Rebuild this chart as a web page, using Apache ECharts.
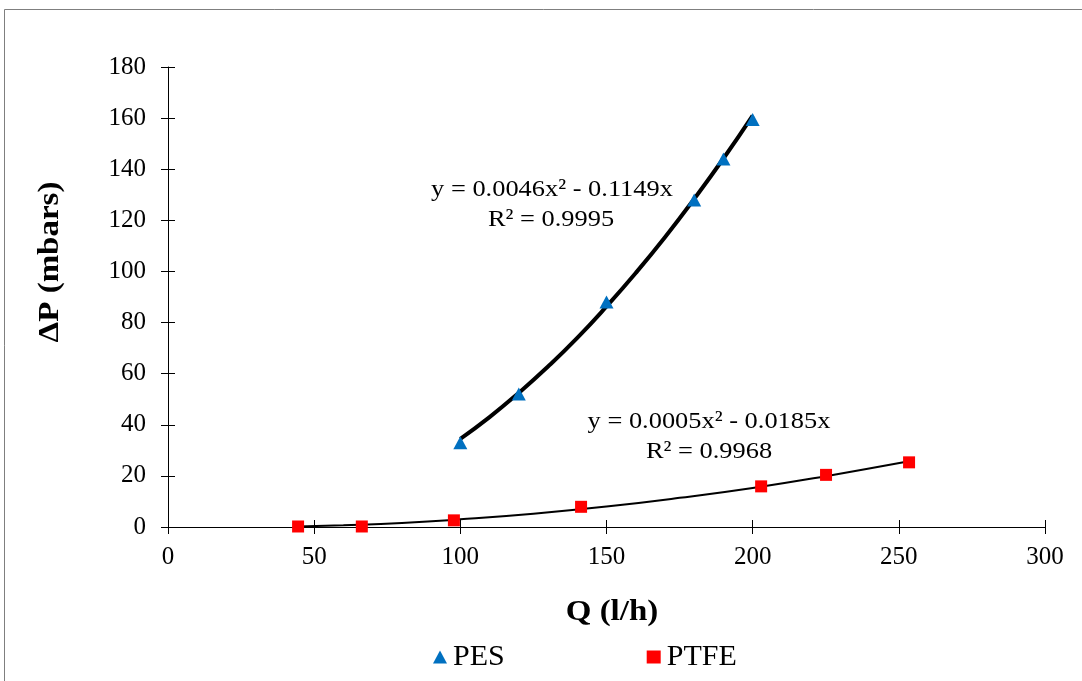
<!DOCTYPE html>
<html>
<head>
<meta charset="utf-8">
<script src="https://cdn.jsdelivr.net/npm/echarts@6/dist/echarts.min.js"></script>
<style>
html,body{margin:0;padding:0;background:#fff;}
#chart{width:1082px;height:681px;}
</style>
</head>
<body>
<div id="chart"></div>
<script>
// Measured data
const pesQ = [100, 120, 150, 180, 190, 200];
const pesDP = [33, 52, 88, 128, 144, 159.5];
const ptfeQ = [44.5, 66.3, 97.8, 141.3, 202.9, 225.1, 253.5];
const ptfeDP = [0.2, 0.2, 2.6, 7.9, 15.9, 20.4, 25.3];
// Trend lines
const pesTrendQ = [100, 110, 120, 130, 140, 150, 160, 170, 180, 190, 200];
const pesTrendDP = [34.5, 43, 52.5, 62.8, 74, 86.3, 99.4, 113.4, 128.4, 144.2, 161];
const ptfeTrendQ = [44.5, 60, 80, 100, 125, 150, 175, 200, 225, 253.5];
const ptfeTrendDP = [0.2, 0.7, 1.6, 3.0, 5.2, 8.0, 11.4, 15.3, 19.9, 25.7];
const xTicks = [0, 50, 100, 150, 200, 250, 300];
const yTicks = [0, 20, 40, 60, 80, 100, 120, 140, 160, 180];
const seriesNames = ['PES', 'PTFE'];
const pesEq = ['y = 0.0046x² - 0.1149x', 'R² = 0.9995'];
const ptfeEq = ['y = 0.0005x² - 0.0185x', 'R² = 0.9968'];
const xTitle = 'Q (l/h)';
const yTitle = 'ΔP (mbars)';

const zip = (a, b) => a.map((v, i) => [v, b[i]]);
const FONT = '"Liberation Serif", "Times New Roman", serif';

const chart = echarts.init(document.getElementById('chart'), null, {renderer: 'canvas'});
const axisCommon = {
  type: 'value',
  splitLine: {show: false},
  axisLine: {show: true, onZero: false, lineStyle: {color: '#000', width: 1}},
};
const annot = (x, y, text, size, bold) => ({
  type: 'text', x: x, y: y, scaleX: 1.1,
  style: {text: text, font: (bold ? 'bold ' : '') + size + 'px ' + FONT, fill: '#000', textAlign: 'center', textVerticalAlign: 'middle'}
});
chart.setOption({
  animation: false,
  backgroundColor: '#fff',
  grid: {left: 168, right: 37, top: 67, bottom: 154, containLabel: false},
  xAxis: [
    Object.assign({}, axisCommon, {
      min: xTicks[0], max: xTicks[xTicks.length - 1], interval: 50,
      axisTick: {show: true, inside: false, length: 7, lineStyle: {color: '#000'}},
      axisLabel: {color: '#000', fontFamily: FONT, fontSize: 25, margin: 18}
    }),
    Object.assign({}, axisCommon, {
      min: xTicks[0], max: xTicks[xTicks.length - 1], interval: 50, position: 'bottom',
      axisLine: {show: false},
      axisTick: {show: true, inside: true, length: 7, lineStyle: {color: '#000'}},
      axisLabel: {show: false}
    })
  ],
  yAxis: [
    Object.assign({}, axisCommon, {
      min: yTicks[0], max: yTicks[yTicks.length - 1], interval: 20, position: 'left',
      axisTick: {show: true, inside: false, length: 7, lineStyle: {color: '#000'}},
      axisLabel: {color: '#000', fontFamily: FONT, fontSize: 25, margin: 22}
    }),
    Object.assign({}, axisCommon, {
      min: yTicks[0], max: yTicks[yTicks.length - 1], interval: 20, position: 'left', offset: 0,
      axisLine: {show: false},
      axisTick: {show: true, inside: true, length: 7, lineStyle: {color: '#000'}},
      axisLabel: {show: false}
    })
  ],
  legend: {
    data: [
      {name: seriesNames[0], icon: 'triangle', itemStyle: {opacity: 1}},
      {name: seriesNames[1], icon: 'rect', itemStyle: {opacity: 1}}
    ],
    left: 428, top: 637,
    itemWidth: 14, itemHeight: 13, itemGap: 142,
    textStyle: {color: '#000', fontFamily: FONT, fontSize: 30, padding: [0, 0, 0, 1]}
  },
  series: [
    {
      name: seriesNames[0] + ' trend', type: 'line', smooth: true, showSymbol: false,
      data: zip(pesTrendQ, pesTrendDP), lineStyle: {color: '#000', width: 4}, z: 2, silent: true
    },
    {
      name: seriesNames[1] + ' trend', type: 'line', smooth: true, showSymbol: false,
      data: zip(ptfeTrendQ, ptfeTrendDP), lineStyle: {color: '#000', width: 2}, z: 2, silent: true
    },
    {
      name: seriesNames[0], type: 'scatter', symbol: 'triangle', symbolSize: [14, 13],
      data: zip(pesQ, pesDP), itemStyle: {color: '#0070C0', opacity: 1}, z: 3
    },
    {
      name: seriesNames[1], type: 'scatter', symbol: 'rect', symbolSize: 12,
      data: zip(ptfeQ, ptfeDP), itemStyle: {color: '#FF0000', opacity: 1}, z: 3
    }
  ],
  graphic: [
    {type: 'rect', shape: {x: 4.5, y: 9.5, width: 1090, height: 690}, style: {fill: null, stroke: '#7f7f7f', lineWidth: 1}, silent: true},
    annot(552, 190, pesEq[0], 24),
    annot(551, 220, pesEq[1], 24),
    annot(709, 422, ptfeEq[0], 24),
    annot(709, 452, ptfeEq[1], 24),
    annot(612, 612, xTitle, 30, true),
    Object.assign(annot(50, 262, yTitle, 30, true), {rotation: Math.PI / 2})
  ]
});
</script>
</body>
</html>
